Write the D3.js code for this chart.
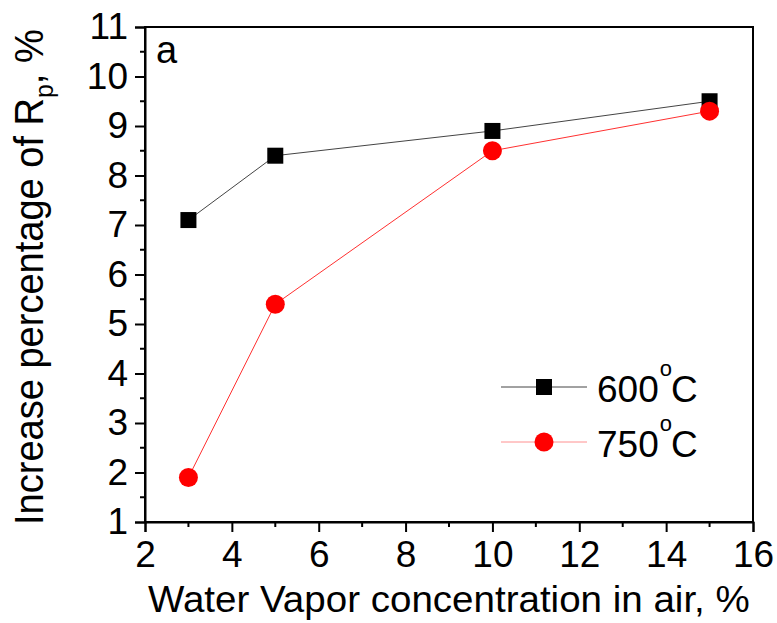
<!DOCTYPE html>
<html><head><meta charset="utf-8">
<script src="https://cdn.jsdelivr.net/npm/d3@7"></script>
<style>body{margin:0;background:#fff}svg{display:block}text{font-family:"Liberation Sans",Arial,sans-serif}</style>
</head><body><svg id="c" width="777" height="623"></svg>
<script>
const xVals = [3, 5, 10, 15];
const s600 = [7.1, 8.4, 8.9, 9.5];
const s750 = [1.9, 5.4, 8.5, 9.3];
const xTicks = [2, 4, 6, 8, 10, 12, 14, 16];
const yTicks = [1, 2, 3, 4, 5, 6, 7, 8, 9, 10, 11];
const seriesNames = ["600", "750"];

const svg = d3.select("#c");
const L = 145, R = 753, T = 27, B = 522;
const x = d3.scaleLinear().domain([2, 16]).range([L, R]);
const y = d3.scaleLinear().domain([1, 11]).range([B, T]);

// frame
svg.append("rect").attr("x", L).attr("y", T).attr("width", R - L).attr("height", B - T)
  .attr("fill", "none").attr("stroke", "#000").attr("stroke-width", 2);

// minor ticks
const xMinor = d3.range(3, 16, 2);
svg.append("g").selectAll("line").data(xMinor).join("line")
  .attr("x1", d => x(d)).attr("x2", d => x(d)).attr("y1", B).attr("y2", B + 5)
  .attr("stroke", "#000").attr("stroke-width", 2);
const yMinor = d3.range(1.5, 11, 1);
svg.append("g").selectAll("line").data(yMinor).join("line")
  .attr("y1", d => y(d)).attr("y2", d => y(d)).attr("x1", L).attr("x2", L - 5)
  .attr("stroke", "#000").attr("stroke-width", 2);

const xAxis = svg.append("g").attr("transform", `translate(0,${B})`)
  .call(d3.axisBottom(x).tickValues(xTicks).tickSize(10).tickPadding(9).tickFormat(d3.format("d")));
const yAxis = svg.append("g").attr("transform", `translate(${L},0)`)
  .call(d3.axisLeft(y).tickValues(yTicks).tickSize(10).tickPadding(7).tickFormat(d3.format("d")));
[xAxis, yAxis].forEach(a => {
  a.select(".domain").attr("stroke-width", 2);
  a.selectAll(".tick line").attr("stroke-width", 2);
  a.selectAll("text").attr("font-size", 37).attr("fill", "#000").attr("font-family", '"Liberation Sans",Arial,sans-serif');
});

// lines
const line = d3.line().x((d, i) => x(xVals[i])).y(d => y(d));
svg.append("path").datum(s600).attr("d", line).attr("fill", "none").attr("stroke", "#444").attr("stroke-width", 1);
svg.append("path").datum(s750).attr("d", line).attr("fill", "none").attr("stroke", "#ff3030").attr("stroke-width", 1);

// markers
svg.append("g").selectAll("rect").data(s600).join("rect")
  .attr("x", (d, i) => x(xVals[i]) - 8).attr("y", d => y(d) - 8)
  .attr("width", 16).attr("height", 16).attr("fill", "#000");
svg.append("g").selectAll("circle").data(s750).join("circle")
  .attr("cx", (d, i) => x(xVals[i])).attr("cy", d => y(d)).attr("r", 9.5).attr("fill", "#ff0000");

// legend
const lg = svg.append("g");
const ly = [387, 442];
lg.append("line").attr("x1", 501).attr("x2", 587).attr("y1", ly[0]).attr("y2", ly[0]).attr("stroke", "#444").attr("stroke-width", 1);
lg.append("rect").attr("x", 536).attr("y", ly[0] - 8).attr("width", 16).attr("height", 16).attr("fill", "#000");
lg.append("line").attr("x1", 501).attr("x2", 587).attr("y1", ly[1]).attr("y2", ly[1]).attr("stroke", "#ff9090").attr("stroke-width", 1);
lg.append("circle").attr("cx", 544).attr("cy", ly[1]).attr("r", 9.5).attr("fill", "#ff0000");
seriesNames.forEach((n, i) => {
  const t = lg.append("text").attr("x", 597).attr("y", ly[i] + 15).attr("font-size", 37).attr("fill", "#000");
  t.append("tspan").text(n);
  t.append("tspan").attr("font-size", 22).attr("dx", 1).attr("dy", -26).text("o");
  t.append("tspan").attr("dx", -1).attr("dy", 26).text("C");
});

// panel label
svg.append("text").attr("x", 156).attr("y", 63).attr("font-size", 38).text("a");

// axis titles
const xt = svg.append("text").attr("x", 0).attr("y", 0).attr("font-size", 37)
  .text("Water Vapor concentration in air, %");
{
  const bb = xt.node().getBBox();
  const s = (750 - 148) / bb.width;
  xt.attr("transform", `translate(148,612) scale(${s},1)`);
}
const yt = svg.append("text").attr("x", 0).attr("y", 0).attr("font-size", 40);
yt.append("tspan").text("Increase percentage of R");
yt.append("tspan").attr("font-size", 26).attr("dy", 10).text("p");
yt.append("tspan").attr("dy", -10).text(", %");
{
  const bb = yt.node().getBBox();
  const s = (525 - 29) / bb.width;
  yt.attr("transform", `translate(43,525) rotate(-90) scale(${s},1)`);
}
</script></body></html>
